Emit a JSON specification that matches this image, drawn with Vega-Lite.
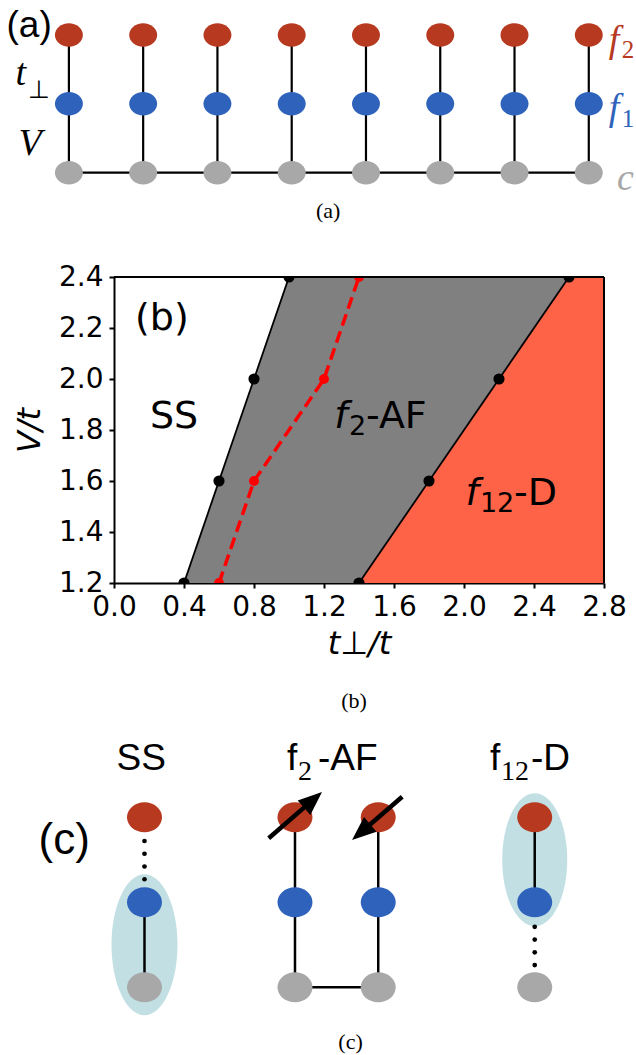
{
  "$schema": "https://vega.github.io/schema/vega-lite/v6.json",
  "width": 490,
  "height": 306,
  "autosize": {"type": "none"},
  "padding": {"left": 114, "top": 277, "right": 32, "bottom": 472},
  "background": "white",
  "config": {
    "view": {"stroke": null},
    "axis": {
      "grid": false, "domainColor": "black", "domainWidth": 2, "tickColor": "black", "tickWidth": 2, "tickSize": 5,
      "labelColor": "black", "labelFont": "DejaVu Sans", "labelFontSize": 28,
      "titleFont": "DejaVu Sans", "titleFontSize": 32, "titleFontWeight": "normal", "titleFontStyle": "italic", "titleColor": "black",
      "zindex": 1, "labelFlush": false, "labelOverlap": false
    }
  },
  "datasets": {
    "phase": [
      {"V": 1.2, "ss": 0.4, "mid": 0.6, "d": 1.4},
      {"V": 1.6, "ss": 0.6, "mid": 0.8, "d": 1.8},
      {"V": 2.0, "ss": 0.8, "mid": 1.2, "d": 2.2},
      {"V": 2.4, "ss": 1.0, "mid": 1.4, "d": 2.6}
    ],
    "bLabels": [
      {"text": "(b)", "role": "up", "t": 0.12, "V": 2.192},
      {"text": "SS", "role": "up", "t": 0.205, "V": 1.808},
      {"text": "f", "role": "it", "t": 1.259, "V": 1.808},
      {"text": "2", "role": "sub", "t": 1.343, "V": 1.781},
      {"text": "-AF", "role": "up", "t": 1.44, "V": 1.808},
      {"text": "f", "role": "it", "t": 2.009, "V": 1.506},
      {"text": "12", "role": "sub", "t": 2.091, "V": 1.478},
      {"text": "-D", "role": "up", "t": 2.286, "V": 1.506}
    ],
    "aNodes": [
      {"site": 0, "level": 0, "orb": "c"}, {"site": 0, "level": 1, "orb": "f1"}, {"site": 0, "level": 2, "orb": "f2"},
      {"site": 1, "level": 0, "orb": "c"}, {"site": 1, "level": 1, "orb": "f1"}, {"site": 1, "level": 2, "orb": "f2"},
      {"site": 2, "level": 0, "orb": "c"}, {"site": 2, "level": 1, "orb": "f1"}, {"site": 2, "level": 2, "orb": "f2"},
      {"site": 3, "level": 0, "orb": "c"}, {"site": 3, "level": 1, "orb": "f1"}, {"site": 3, "level": 2, "orb": "f2"},
      {"site": 4, "level": 0, "orb": "c"}, {"site": 4, "level": 1, "orb": "f1"}, {"site": 4, "level": 2, "orb": "f2"},
      {"site": 5, "level": 0, "orb": "c"}, {"site": 5, "level": 1, "orb": "f1"}, {"site": 5, "level": 2, "orb": "f2"},
      {"site": 6, "level": 0, "orb": "c"}, {"site": 6, "level": 1, "orb": "f1"}, {"site": 6, "level": 2, "orb": "f2"},
      {"site": 7, "level": 0, "orb": "c"}, {"site": 7, "level": 1, "orb": "f1"}, {"site": 7, "level": 2, "orb": "f2"}
    ],
    "aEdges": [
      {"x": 0, "y": 0, "x2": 0, "y2": 2}, {"x": 1, "y": 0, "x2": 1, "y2": 2},
      {"x": 2, "y": 0, "x2": 2, "y2": 2}, {"x": 3, "y": 0, "x2": 3, "y2": 2},
      {"x": 4, "y": 0, "x2": 4, "y2": 2}, {"x": 5, "y": 0, "x2": 5, "y2": 2},
      {"x": 6, "y": 0, "x2": 6, "y2": 2}, {"x": 7, "y": 0, "x2": 7, "y2": 2},
      {"x": 0, "y": 0, "x2": 7, "y2": 0}
    ],
    "aLabels": [
      {"text": "(a)", "role": "tag", "orb": "k", "x": -0.84, "y": 1.965},
      {"text": "t", "role": "sym", "orb": "k", "x": -0.72, "y": 1.27},
      {"text": "⊥", "role": "sub", "orb": "k", "x": -0.55, "y": 1.09},
      {"text": "V", "role": "sym", "orb": "k", "x": -0.68, "y": 0.257},
      {"text": "f", "role": "sym", "orb": "f2", "x": 7.27, "y": 1.76},
      {"text": "2", "role": "sub", "orb": "f2", "x": 7.445, "y": 1.66},
      {"text": "f", "role": "sym", "orb": "f1", "x": 7.27, "y": 0.76},
      {"text": "1", "role": "sub", "orb": "f1", "x": 7.445, "y": 0.66},
      {"text": "c", "role": "sym", "orb": "c", "x": 7.38, "y": -0.25},
      {"text": "(a)", "role": "cap", "orb": "k", "x": 3.49, "y": -0.658}
    ],
    "cEll": [
      {"state": "SS", "x": 0, "y": 0.5},
      {"state": "D", "x": 4.618, "y": 1.5}
    ],
    "cEdges": [
      {"x": 0, "y": 0, "x2": 0, "y2": 1},
      {"x": 1.781, "y": 0, "x2": 1.781, "y2": 2},
      {"x": 2.766, "y": 0, "x2": 2.766, "y2": 2},
      {"x": 1.781, "y": 0, "x2": 2.766, "y2": 0},
      {"x": 4.618, "y": 1, "x2": 4.618, "y2": 2}
    ],
    "cDots": [
      {"x": 0, "y": 1.72}, {"x": 0, "y": 1.57}, {"x": 0, "y": 1.42}, {"x": 0, "y": 1.27},
      {"x": 4.618, "y": 0.71}, {"x": 4.618, "y": 0.56}, {"x": 4.618, "y": 0.41}, {"x": 4.618, "y": 0.26}
    ],
    "cNodes": [
      {"x": 0, "y": 0, "orb": "c"}, {"x": 0, "y": 1, "orb": "f1"}, {"x": 0, "y": 2, "orb": "f2"},
      {"x": 1.781, "y": 0, "orb": "c"}, {"x": 1.781, "y": 1, "orb": "f1"}, {"x": 1.781, "y": 2, "orb": "f2"},
      {"x": 2.766, "y": 0, "orb": "c"}, {"x": 2.766, "y": 1, "orb": "f1"}, {"x": 2.766, "y": 2, "orb": "f2"},
      {"x": 4.618, "y": 0, "orb": "c"}, {"x": 4.618, "y": 1, "orb": "f1"}, {"x": 4.618, "y": 2, "orb": "f2"}
    ],
    "cArrowLines": [
      {"spin": "up", "x": 1.47, "y": 1.752, "x2": 2.0, "y2": 2.21},
      {"spin": "down", "x": 3.05, "y": 2.24, "x2": 2.56, "y2": 1.82}
    ],
    "cArrowHeads": [
      {"spin": "up", "x": 2.101, "y": 2.297},
      {"spin": "down", "x": 2.456, "y": 1.732}
    ],
    "cLabels": [
      {"text": "SS", "role": "sans", "x": -0.33, "y": 2.555},
      {"text": "f", "role": "sans", "x": 1.686, "y": 2.555},
      {"text": "2", "role": "ssub", "x": 1.817, "y": 2.438},
      {"text": "-AF", "role": "sans", "x": 2.053, "y": 2.555},
      {"text": "f", "role": "sans", "x": 4.089, "y": 2.555},
      {"text": "12", "role": "ssub", "x": 4.219, "y": 2.438},
      {"text": "-D", "role": "sans", "x": 4.574, "y": 2.555},
      {"text": "(c)", "role": "tag", "x": -1.254, "y": 1.567},
      {"text": "(b)", "role": "cap", "x": 2.479, "y": 3.285},
      {"text": "(c)", "role": "cap", "x": 2.438, "y": -0.731}
    ]
  },
  "layer": [
    {
      "layer": [
        {
          "data": {"name": "phase"},
          "mark": {"type": "area", "orient": "horizontal", "color": "#808080", "clip": true},
          "encoding": {
            "y": {"field": "V", "type": "quantitative", "scale": {"domain": [1.2, 2.4], "nice": false, "zero": false},
              "axis": {"title": "V/t", "values": [1.2, 1.4, 1.6, 1.8, 2.0, 2.2, 2.4], "format": ".1f", "labelPadding": 6, "titlePadding": 12}},
            "x": {"field": "ss", "type": "quantitative", "scale": {"domain": [0, 2.8], "nice": false, "zero": false},
              "axis": {"title": "t⊥/t", "values": [0, 0.4, 0.8, 1.2, 1.6, 2.0, 2.4, 2.8], "format": ".1f", "labelPadding": 5, "titlePadding": 7}},
            "x2": {"field": "d"}
          }
        },
        {
          "data": {"name": "phase"},
          "mark": {"type": "area", "orient": "horizontal", "color": "#FF6347", "clip": true},
          "encoding": {
            "y": {"field": "V", "type": "quantitative"},
            "x": {"field": "d", "type": "quantitative"},
            "x2": {"datum": 2.8}
          }
        },
        {
          "data": {"name": "phase"},
          "mark": {"type": "line", "color": "black", "strokeWidth": 1.8, "clip": true},
          "encoding": {"x": {"field": "ss", "type": "quantitative"}, "y": {"field": "V", "type": "quantitative"}, "order": {"field": "V"}}
        },
        {
          "data": {"name": "phase"},
          "mark": {"type": "line", "color": "black", "strokeWidth": 1.8, "clip": true},
          "encoding": {"x": {"field": "d", "type": "quantitative"}, "y": {"field": "V", "type": "quantitative"}, "order": {"field": "V"}}
        },
        {
          "data": {"name": "phase"},
          "mark": {"type": "line", "color": "#FF0000", "strokeWidth": 3.5, "strokeDash": [12, 6], "clip": true},
          "encoding": {"x": {"field": "mid", "type": "quantitative"}, "y": {"field": "V", "type": "quantitative"}, "order": {"field": "V"}}
        },
        {
          "data": {"name": "phase"},
          "mark": {"type": "circle", "color": "black", "size": 125, "opacity": 1, "clip": true},
          "encoding": {"x": {"field": "ss", "type": "quantitative"}, "y": {"field": "V", "type": "quantitative"}}
        },
        {
          "data": {"name": "phase"},
          "mark": {"type": "circle", "color": "black", "size": 125, "opacity": 1, "clip": true},
          "encoding": {"x": {"field": "d", "type": "quantitative"}, "y": {"field": "V", "type": "quantitative"}}
        },
        {
          "data": {"name": "phase"},
          "mark": {"type": "circle", "color": "#FF0000", "size": 100, "opacity": 1, "clip": true},
          "encoding": {"x": {"field": "mid", "type": "quantitative"}, "y": {"field": "V", "type": "quantitative"}}
        },
        {
          "data": {"values": [{}]},
          "mark": {"type": "rule", "color": "black", "strokeWidth": 2},
          "encoding": {"x": {"datum": 0, "type": "quantitative"}, "x2": {"datum": 2.8}, "y": {"datum": 2.4, "type": "quantitative"}}
        },
        {
          "data": {"values": [{}]},
          "mark": {"type": "rule", "color": "black", "strokeWidth": 2},
          "encoding": {"x": {"datum": 2.8, "type": "quantitative"}, "y": {"datum": 1.2, "type": "quantitative"}, "y2": {"datum": 2.4}}
        },
        {
          "data": {"name": "bLabels"},
          "transform": [{"filter": "datum.role === 'up'"}],
          "mark": {"type": "text", "font": "DejaVu Sans", "fontSize": 38, "align": "left", "baseline": "alphabetic", "color": "black"},
          "encoding": {"x": {"field": "t", "type": "quantitative"}, "y": {"field": "V", "type": "quantitative"}, "text": {"field": "text"}}
        },
        {
          "data": {"name": "bLabels"},
          "transform": [{"filter": "datum.role === 'it'"}],
          "mark": {"type": "text", "font": "DejaVu Sans", "fontStyle": "italic", "fontSize": 38, "align": "left", "baseline": "alphabetic", "color": "black"},
          "encoding": {"x": {"field": "t", "type": "quantitative"}, "y": {"field": "V", "type": "quantitative"}, "text": {"field": "text"}}
        },
        {
          "data": {"name": "bLabels"},
          "transform": [{"filter": "datum.role === 'sub'"}],
          "mark": {"type": "text", "font": "DejaVu Sans", "fontSize": 27, "align": "left", "baseline": "alphabetic", "color": "black"},
          "encoding": {"x": {"field": "t", "type": "quantitative"}, "y": {"field": "V", "type": "quantitative"}, "text": {"field": "text"}}
        }
      ]
    },
    {
      "layer": [
        {
          "data": {"name": "aEdges"},
          "mark": {"type": "rule", "color": "black", "strokeWidth": 2.2},
          "encoding": {
            "x": {"field": "x", "type": "quantitative", "scale": {"domain": [0.6073, 7.2049], "nice": false, "zero": false}, "axis": null},
            "y": {"field": "y", "type": "quantitative", "scale": {"domain": [-5.9594, -1.515], "nice": false, "zero": false}, "axis": null},
            "x2": {"field": "x2"}, "y2": {"field": "y2"}
          }
        },
        {
          "data": {"name": "aNodes"},
          "mark": {"type": "point", "shape": "M-1,0A1,0.84 0 1,1 1,0A1,0.84 0 1,1 -1,0Z", "filled": true, "size": 784, "opacity": 1, "strokeWidth": 0},
          "encoding": {
            "x": {"field": "site", "type": "quantitative", "scale": {"domain": [0.6073, 7.2049], "nice": false, "zero": false}, "axis": null},
            "y": {"field": "level", "type": "quantitative", "scale": {"domain": [-5.9594, -1.515], "nice": false, "zero": false}, "axis": null},
            "color": {"field": "orb", "type": "nominal", "scale": {"domain": ["f2", "f1", "c", "k"], "range": ["#B7391F", "#2F63BB", "#A8A8A8", "#000000"]}, "legend": null}
          }
        },
        {
          "data": {"name": "aLabels"},
          "transform": [{"filter": "datum.role === 'tag'"}],
          "mark": {"type": "text", "font": "Liberation Sans", "fontSize": 37, "align": "left", "baseline": "alphabetic"},
          "encoding": {
            "x": {"field": "x", "type": "quantitative", "scale": {"domain": [0.6073, 7.2049], "nice": false, "zero": false}, "axis": null},
            "y": {"field": "y", "type": "quantitative", "scale": {"domain": [-5.9594, -1.515], "nice": false, "zero": false}, "axis": null},
            "text": {"field": "text"},
            "color": {"field": "orb", "type": "nominal", "legend": null}
          }
        },
        {
          "data": {"name": "aLabels"},
          "transform": [{"filter": "datum.role === 'sym'"}],
          "mark": {"type": "text", "font": "Liberation Serif", "fontStyle": "italic", "fontSize": 38, "align": "left", "baseline": "alphabetic"},
          "encoding": {
            "x": {"field": "x", "type": "quantitative", "scale": {"domain": [0.6073, 7.2049], "nice": false, "zero": false}, "axis": null},
            "y": {"field": "y", "type": "quantitative", "scale": {"domain": [-5.9594, -1.515], "nice": false, "zero": false}, "axis": null},
            "text": {"field": "text"},
            "color": {"field": "orb", "type": "nominal", "legend": null}
          }
        },
        {
          "data": {"name": "aLabels"},
          "transform": [{"filter": "datum.role === 'sub'"}],
          "mark": {"type": "text", "font": "Liberation Serif", "fontSize": 25, "align": "left", "baseline": "alphabetic"},
          "encoding": {
            "x": {"field": "x", "type": "quantitative", "scale": {"domain": [0.6073, 7.2049], "nice": false, "zero": false}, "axis": null},
            "y": {"field": "y", "type": "quantitative", "scale": {"domain": [-5.9594, -1.515], "nice": false, "zero": false}, "axis": null},
            "text": {"field": "text"},
            "color": {"field": "orb", "type": "nominal", "legend": null}
          }
        },
        {
          "data": {"name": "aLabels"},
          "transform": [{"filter": "datum.role === 'cap'"}],
          "mark": {"type": "text", "font": "Liberation Serif", "fontSize": 22, "align": "center", "baseline": "alphabetic"},
          "encoding": {
            "x": {"field": "x", "type": "quantitative", "scale": {"domain": [0.6073, 7.2049], "nice": false, "zero": false}, "axis": null},
            "y": {"field": "y", "type": "quantitative", "scale": {"domain": [-5.9594, -1.515], "nice": false, "zero": false}, "axis": null},
            "text": {"field": "text"},
            "color": {"field": "orb", "type": "nominal", "legend": null}
          }
        }
      ]
    },
    {
      "layer": [
        {
          "data": {"name": "cEll"},
          "transform": [{"filter": "datum.state === 'SS'"}],
          "mark": {"type": "point", "shape": "M-0.468,0A0.468,1 0 1,1 0.468,0A0.468,1 0 1,1 -0.468,0Z", "filled": true, "size": 19881, "opacity": 1, "color": "#C2E0E4", "strokeWidth": 0},
          "encoding": {
            "x": {"field": "x", "type": "quantitative", "scale": {"domain": [-0.3609, 5.4379], "nice": false, "zero": false}, "axis": null},
            "y": {"field": "y", "type": "quantitative", "scale": {"domain": [4.7553, 8.3553], "nice": false, "zero": false}, "axis": null}
          }
        },
        {
          "data": {"name": "cEll"},
          "transform": [{"filter": "datum.state === 'D'"}],
          "mark": {"type": "point", "shape": "M-0.489,0A0.489,1 0 1,1 0.489,0A0.489,1 0 1,1 -0.489,0Z", "filled": true, "size": 17689, "opacity": 1, "color": "#C2E0E4", "strokeWidth": 0},
          "encoding": {
            "x": {"field": "x", "type": "quantitative", "scale": {"domain": [-0.3609, 5.4379], "nice": false, "zero": false}, "axis": null},
            "y": {"field": "y", "type": "quantitative", "scale": {"domain": [4.7553, 8.3553], "nice": false, "zero": false}, "axis": null}
          }
        },
        {
          "data": {"name": "cEdges"},
          "mark": {"type": "rule", "color": "black", "strokeWidth": 2.5},
          "encoding": {
            "x": {"field": "x", "type": "quantitative", "scale": {"domain": [-0.3609, 5.4379], "nice": false, "zero": false}, "axis": null},
            "y": {"field": "y", "type": "quantitative", "scale": {"domain": [4.7553, 8.3553], "nice": false, "zero": false}, "axis": null},
            "x2": {"field": "x2"}, "y2": {"field": "y2"}
          }
        },
        {
          "data": {"name": "cDots"},
          "mark": {"type": "circle", "color": "black", "size": 22, "opacity": 1},
          "encoding": {
            "x": {"field": "x", "type": "quantitative", "scale": {"domain": [-0.3609, 5.4379], "nice": false, "zero": false}, "axis": null},
            "y": {"field": "y", "type": "quantitative", "scale": {"domain": [4.7553, 8.3553], "nice": false, "zero": false}, "axis": null}
          }
        },
        {
          "data": {"name": "cNodes"},
          "mark": {"type": "point", "shape": "M-1,0A1,0.86 0 1,1 1,0A1,0.86 0 1,1 -1,0Z", "filled": true, "size": 1225, "opacity": 1, "strokeWidth": 0},
          "encoding": {
            "x": {"field": "x", "type": "quantitative", "scale": {"domain": [-0.3609, 5.4379], "nice": false, "zero": false}, "axis": null},
            "y": {"field": "y", "type": "quantitative", "scale": {"domain": [4.7553, 8.3553], "nice": false, "zero": false}, "axis": null},
            "color": {"field": "orb", "type": "nominal", "legend": null}
          }
        },
        {
          "data": {"name": "cArrowLines"},
          "mark": {"type": "rule", "color": "black", "strokeWidth": 4.5},
          "encoding": {
            "x": {"field": "x", "type": "quantitative", "scale": {"domain": [-0.3609, 5.4379], "nice": false, "zero": false}, "axis": null},
            "y": {"field": "y", "type": "quantitative", "scale": {"domain": [4.7553, 8.3553], "nice": false, "zero": false}, "axis": null},
            "x2": {"field": "x2"}, "y2": {"field": "y2"}
          }
        },
        {
          "data": {"name": "cArrowHeads"},
          "transform": [{"filter": "datum.spin === 'up'"}],
          "mark": {"type": "point", "shape": "M0,0L-0.8,2L0.8,2Z", "filled": true, "size": 576, "opacity": 1, "color": "black", "strokeWidth": 0, "angle": 48.7},
          "encoding": {
            "x": {"field": "x", "type": "quantitative", "scale": {"domain": [-0.3609, 5.4379], "nice": false, "zero": false}, "axis": null},
            "y": {"field": "y", "type": "quantitative", "scale": {"domain": [4.7553, 8.3553], "nice": false, "zero": false}, "axis": null}
          }
        },
        {
          "data": {"name": "cArrowHeads"},
          "transform": [{"filter": "datum.spin === 'down'"}],
          "mark": {"type": "point", "shape": "M0,0L-0.8,2L0.8,2Z", "filled": true, "size": 576, "opacity": 1, "color": "black", "strokeWidth": 0, "angle": 229.4},
          "encoding": {
            "x": {"field": "x", "type": "quantitative", "scale": {"domain": [-0.3609, 5.4379], "nice": false, "zero": false}, "axis": null},
            "y": {"field": "y", "type": "quantitative", "scale": {"domain": [4.7553, 8.3553], "nice": false, "zero": false}, "axis": null}
          }
        },
        {
          "data": {"name": "cLabels"},
          "transform": [{"filter": "datum.role === 'sans'"}],
          "mark": {"type": "text", "font": "Liberation Sans", "fontSize": 37, "align": "left", "baseline": "alphabetic", "color": "black"},
          "encoding": {
            "x": {"field": "x", "type": "quantitative", "scale": {"domain": [-0.3609, 5.4379], "nice": false, "zero": false}, "axis": null},
            "y": {"field": "y", "type": "quantitative", "scale": {"domain": [4.7553, 8.3553], "nice": false, "zero": false}, "axis": null},
            "text": {"field": "text"}
          }
        },
        {
          "data": {"name": "cLabels"},
          "transform": [{"filter": "datum.role === 'ssub'"}],
          "mark": {"type": "text", "font": "Liberation Serif", "fontSize": 28, "align": "left", "baseline": "alphabetic", "color": "black"},
          "encoding": {
            "x": {"field": "x", "type": "quantitative", "scale": {"domain": [-0.3609, 5.4379], "nice": false, "zero": false}, "axis": null},
            "y": {"field": "y", "type": "quantitative", "scale": {"domain": [4.7553, 8.3553], "nice": false, "zero": false}, "axis": null},
            "text": {"field": "text"}
          }
        },
        {
          "data": {"name": "cLabels"},
          "transform": [{"filter": "datum.role === 'tag'"}],
          "mark": {"type": "text", "font": "Liberation Sans", "fontSize": 44, "align": "left", "baseline": "alphabetic", "color": "black"},
          "encoding": {
            "x": {"field": "x", "type": "quantitative", "scale": {"domain": [-0.3609, 5.4379], "nice": false, "zero": false}, "axis": null},
            "y": {"field": "y", "type": "quantitative", "scale": {"domain": [4.7553, 8.3553], "nice": false, "zero": false}, "axis": null},
            "text": {"field": "text"}
          }
        },
        {
          "data": {"name": "cLabels"},
          "transform": [{"filter": "datum.role === 'cap'"}],
          "mark": {"type": "text", "font": "Liberation Serif", "fontSize": 22, "align": "center", "baseline": "alphabetic", "color": "black"},
          "encoding": {
            "x": {"field": "x", "type": "quantitative", "scale": {"domain": [-0.3609, 5.4379], "nice": false, "zero": false}, "axis": null},
            "y": {"field": "y", "type": "quantitative", "scale": {"domain": [4.7553, 8.3553], "nice": false, "zero": false}, "axis": null},
            "text": {"field": "text"}
          }
        }
      ]
    }
  ],
  "resolve": {"scale": {"x": "independent", "y": "independent"}}
}
